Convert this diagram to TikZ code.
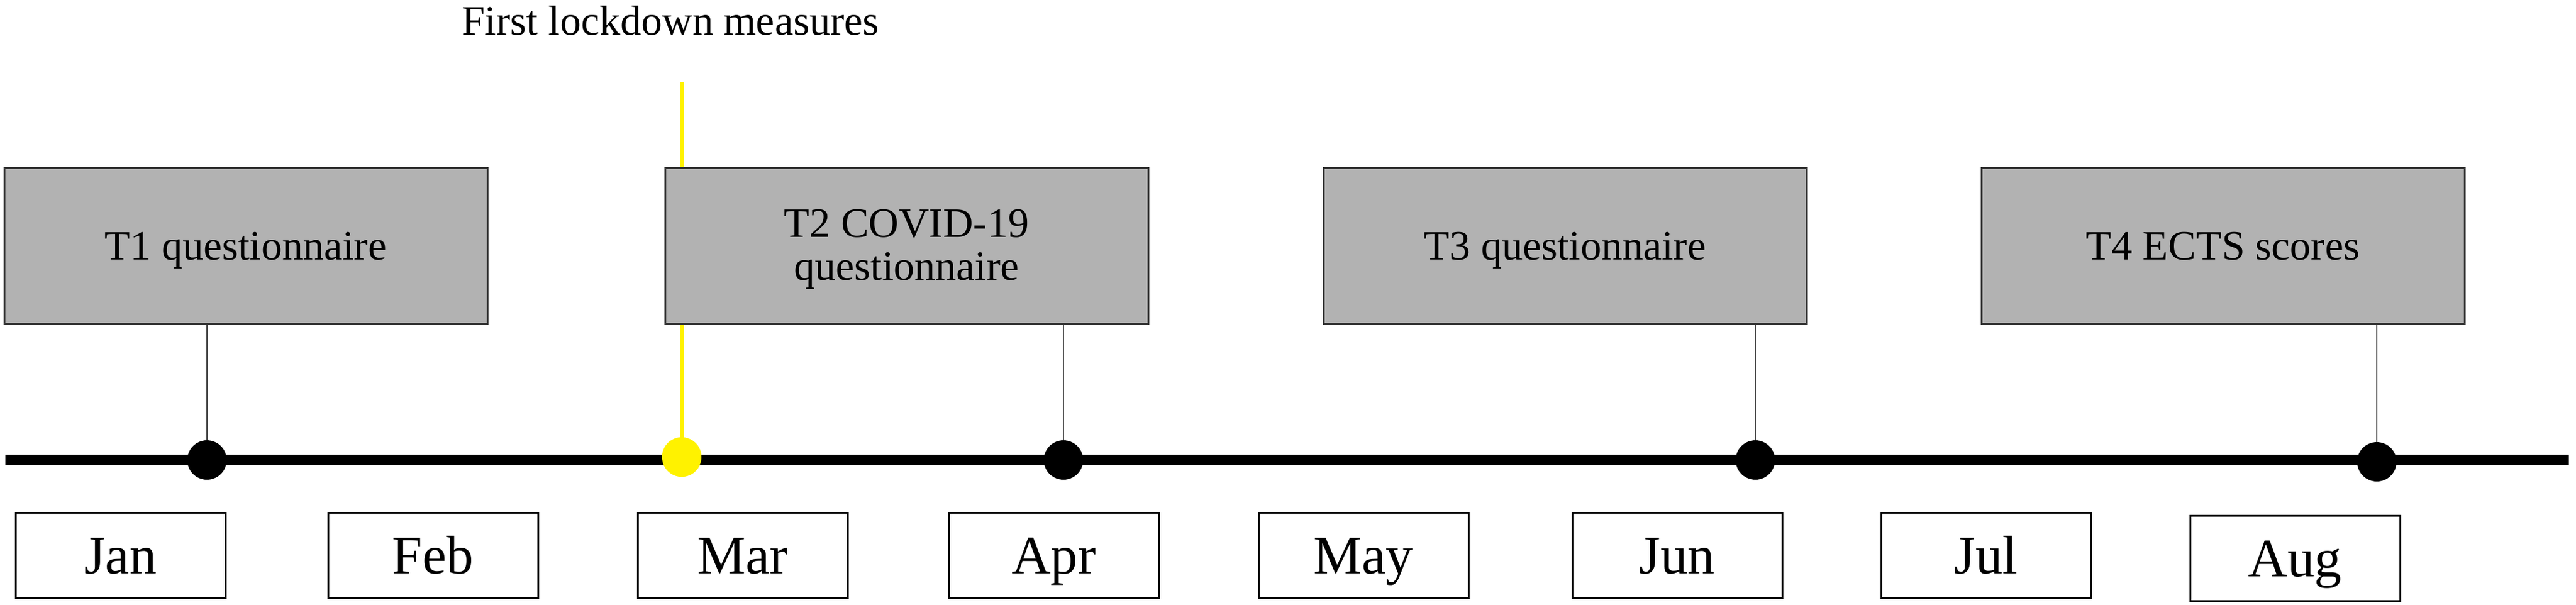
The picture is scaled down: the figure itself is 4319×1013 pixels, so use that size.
\documentclass[tikz,border=0pt]{standalone}
\usepackage{fontspec}
\setmainfont{Liberation Serif}
\begin{document}
\begin{tikzpicture}[x=1pt,y=-1pt,
  event/.style={draw=black!80,line width=3pt,fill=black!30,minimum width=810pt,minimum height=261pt,inner sep=0pt,align=center,font=\fontsize{70}{72}\selectfont},
  oneline/.style={event,text height=55pt,text depth=8pt},
  month/.style={draw,line width=3pt,minimum width=352pt,minimum height=143pt,inner sep=0pt,text height=70pt,text depth=10pt,font=\fontsize{91}{100}\selectfont},
  dot/.style={circle,fill=black,minimum size=66pt,inner sep=0pt}]

\useasboundingbox (0,0) rectangle (4319,1013);

\node[anchor=base,font=\fontsize{70}{73}\selectfont] (lock) at (1124,58) {First lockdown measures};
\coordinate (locktop) at (1143,138);
\node[dot,fill=yellow] (lockdot) at (1143,766) {};
\draw[yellow,line width=7pt] (locktop) -- (lockdot);

\node[oneline] (t1) at (412,412) {T1 questionnaire};
\node[event] (t2) at (1520,412) {};
\node[align=center,font=\fontsize{70}{72}\selectfont,yshift=-6pt] (t2text) at (t2) {T2 COVID-19\\questionnaire};
\node[oneline] (t3) at (2624,412) {T3 questionnaire};
\node[oneline] (t4) at (3727,412) {T4 ECTS scores};

\coordinate (start) at (9,771);
\coordinate (end) at (4307,771);
\draw[line width=18pt] (start) -- (end);
\node[dot,fill=yellow] at (lockdot) {};

\node[dot] (d1) at (347,771) {};
\node[dot] (d2) at (1783,771) {};
\node[dot] (d3) at (2943,771) {};
\node[dot] (d4) at (3985,774) {};

\foreach \i in {1,...,4}{
\draw[black!75,line width=2pt] (t\i.south -| d\i) -- (d\i);}

\foreach \x/\m [count=\i] in {202/Jan,726/Feb,1245/Mar,1767/Apr,2286/May,2812/Jun,3330/Jul}{
\node[month] (m\i) at (\x,931) {\m};}
\node[month] (m8) at (3848,936) {Aug};

\end{tikzpicture}
\end{document}
